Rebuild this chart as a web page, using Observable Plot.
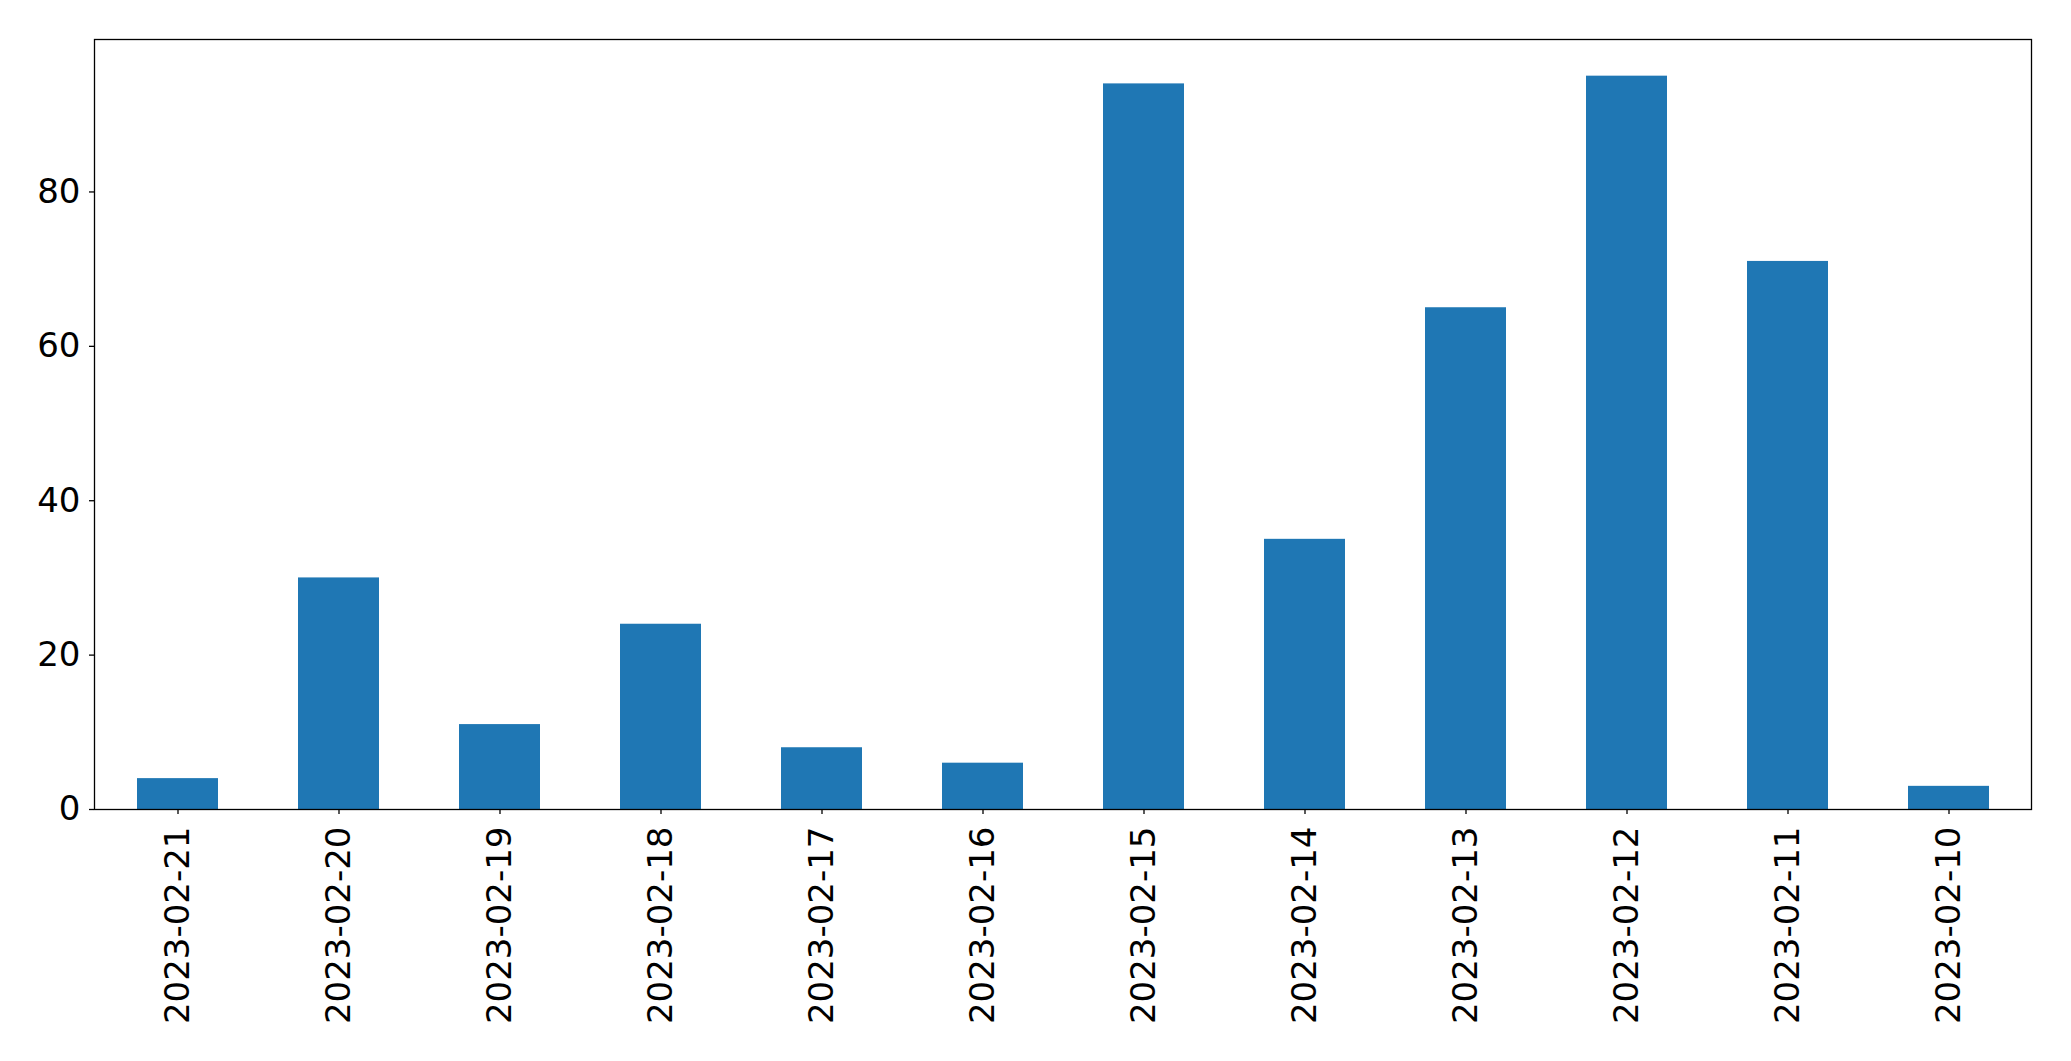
<!DOCTYPE html>
<html>
<head>
<meta charset="utf-8">
<script src="https://cdn.jsdelivr.net/npm/d3@7"></script>
<script src="https://cdn.jsdelivr.net/npm/@observablehq/plot@0.6"></script>
<style>
  html, body { margin: 0; padding: 0; background: white; }
</style>
</head>
<body>
<div id="chart"></div>
<script>
const dates = ["2023-02-21","2023-02-20","2023-02-19","2023-02-18","2023-02-17","2023-02-16","2023-02-15","2023-02-14","2023-02-13","2023-02-12","2023-02-11","2023-02-10"];
const counts = [4, 30, 11, 24, 8, 6, 94, 35, 65, 95, 71, 3];
const yTicks = [0, 20, 40, 60, 80];

const data = dates.map((d, i) => ({date: d, count: counts[i]}));

const chart = Plot.plot({
  width: 2071,
  height: 1061,
  marginLeft: 94,
  marginRight: 40,
  marginTop: 39,
  marginBottom: 252,
  style: {fontFamily: "DejaVu Sans", fontSize: "34px", color: "black", background: "white"},
  x: {domain: dates, paddingInner: 0.5, paddingOuter: 0.25},
  y: {domain: [0, 99.75]},
  marks: [
    Plot.barY(data, {x: "date", y: "count", fill: "#1f77b4"}),
    Plot.frame({stroke: "black", strokeWidth: 1.3}),
    Plot.axisY({ticks: yTicks, tickSize: 5, tickPadding: 9, fontSize: 34, label: null, strokeWidth: 1.3}),
    Plot.axisX({tickRotate: -90, tickSize: 5, tickPadding: 12, fontSize: 34, label: null, strokeWidth: 1.3})
  ]
});
document.getElementById("chart").appendChild(chart);
</script>
</body>
</html>
